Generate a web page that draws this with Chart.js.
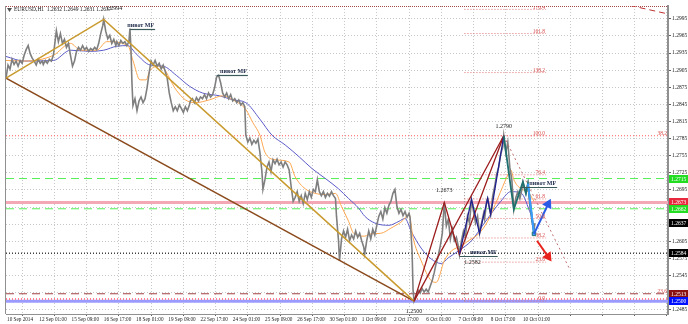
<!DOCTYPE html>
<html>
<head>
<meta charset="utf-8">
<title>EURUSD,H1</title>
<script src="https://cdn.jsdelivr.net/npm/chart.js@4.4.0/dist/chart.umd.min.js"></script>
<style>
html,body{margin:0;padding:0;background:#fff;}
</style>
</head>
<body>
<canvas id="mt4" width="688" height="324"></canvas>
<script>
// ---- data (bar index, price) ----
const timeLabels = ['10 Sep 2014','12 Sep 01:00','15 Sep 09:00','16 Sep 17:00','18 Sep 01:00','19 Sep 09:00',
  '22 Sep 17:00','24 Sep 01:00','25 Sep 09:00','26 Sep 17:00','30 Sep 01:00','1 Oct 09:00','2 Oct 17:00',
  '6 Oct 01:00','7 Oct 09:00','8 Oct 17:00','10 Oct 01:00'];
const timeTickBars = [16,48,80,112,144,176,208,240,272,304,336,368,400,432,464,496,528,560,592,624,656];
const tickPrices = [1.2485,1.2515,1.2545,1.2575,1.2605,1.2635,1.2665,1.2695,1.2725,1.2755,1.2785,1.2815,
  1.2845,1.2875,1.2905,1.2935,1.2965,1.2995];

const closeSeries = [[0,1.2891],[2,1.2914],[4,1.2907],[6,1.2924],[8,1.2915],[10,1.2921],[12,1.2912],[14,1.2922],[16,1.2917],[18,1.2931],[20,1.2941],[22,1.2948],[24,1.2934],[26,1.2926],[28,1.2921],[30,1.2914],[32,1.2924],[34,1.2917],[36,1.2921],[37,1.2915],[39,1.2922],[41,1.2917],[43,1.2924],[45,1.2921],[47,1.2931],[49,1.2960],[50,1.2974],[52,1.2955],[54,1.2969],[56,1.2952],[58,1.2959],[60,1.2945],[62,1.2952],[64,1.2931],[66,1.2912],[68,1.2921],[70,1.2938],[72,1.2945],[74,1.2940],[76,1.2948],[78,1.2941],[80,1.2945],[82,1.2938],[84,1.2943],[86,1.2940],[88,1.2945],[90,1.2941],[92,1.2952],[94,1.2969],[96,1.2983],[97,1.2994],[99,1.2973],[101,1.2960],[103,1.2966],[105,1.2952],[107,1.2959],[109,1.2948],[110,1.2955],[112,1.2948],[114,1.2957],[116,1.2952],[118,1.2955],[120,1.2948],[122,1.2955],[123,1.2978],[124,1.2943],[125,1.2883],[126,1.2843],[128,1.2855],[130,1.2834],[132,1.2851],[134,1.2858],[136,1.2848],[138,1.2855],[140,1.2874],[142,1.2900],[144,1.2921],[146,1.2914],[148,1.2922],[150,1.2912],[152,1.2917],[154,1.2907],[156,1.2914],[158,1.2903],[160,1.2891],[162,1.2865],[164,1.2848],[166,1.2834],[168,1.2841],[170,1.2834],[172,1.2844],[174,1.2838],[176,1.2831],[178,1.2841],[180,1.2834],[182,1.2844],[183,1.2851],[185,1.2855],[187,1.2848],[189,1.2857],[191,1.2851],[193,1.2858],[195,1.2855],[197,1.2862],[199,1.2855],[201,1.2865],[203,1.2858],[205,1.2862],[207,1.2874],[209,1.2893],[211,1.2896],[213,1.2883],[215,1.2865],[217,1.2858],[219,1.2865],[221,1.2855],[223,1.2862],[225,1.2851],[227,1.2855],[229,1.2848],[231,1.2853],[233,1.2844],[235,1.2848],[237,1.2841],[238,1.2791],[240,1.2779],[242,1.2786],[244,1.2775],[246,1.2782],[248,1.2777],[250,1.2784],[252,1.2761],[254,1.2727],[255,1.2696],[257,1.2713],[259,1.2735],[261,1.2744],[263,1.2727],[265,1.2748],[267,1.2741],[269,1.2749],[271,1.2739],[273,1.2744],[275,1.2735],[277,1.2744],[279,1.2739],[281,1.2730],[283,1.2701],[285,1.2675],[287,1.2682],[289,1.2692],[291,1.2675],[293,1.2685],[295,1.2671],[297,1.2689],[299,1.2678],[301,1.2692],[303,1.2682],[305,1.2696],[307,1.2692],[309,1.2713],[311,1.2692],[313,1.2685],[315,1.2692],[317,1.2682],[319,1.2689],[321,1.2684],[323,1.2692],[325,1.2685],[327,1.2680],[328,1.2649],[330,1.2606],[331,1.2571],[333,1.2609],[335,1.2623],[337,1.2612],[339,1.2626],[341,1.2606],[343,1.2616],[345,1.2609],[347,1.2623],[349,1.2612],[351,1.2619],[353,1.2606],[355,1.2595],[356,1.2583],[358,1.2606],[360,1.2623],[362,1.2609],[364,1.2626],[366,1.2616],[368,1.2633],[370,1.2649],[372,1.2657],[374,1.2644],[376,1.2664],[378,1.2654],[380,1.2668],[382,1.2675],[384,1.2689],[386,1.2696],[388,1.2666],[390,1.2654],[392,1.2661],[394,1.2650],[396,1.2657],[398,1.2647],[400,1.2654],[401,1.2647],[403,1.2588],[404,1.2519],[405,1.2500],[407,1.2509],[409,1.2519],[411,1.2514],[413,1.2522],[415,1.2516],[417,1.2521],[419,1.2516],[421,1.2526],[423,1.2536],[425,1.2550],[427,1.2567],[429,1.2580],[431,1.2597],[433,1.2619],[435,1.2673],[437,1.2632],[439,1.2644],[441,1.2609],[443,1.2626],[445,1.2606],[447,1.2612],[449,1.2595],[450,1.2582],[452,1.2606],[454,1.2623],[456,1.2612],[458,1.2649],[460,1.2637],[462,1.2678],[464,1.2657],[466,1.2637],[468,1.2649],[470,1.2619],[472,1.2637],[474,1.2654],[475,1.2644],[477,1.2675],[478,1.2680],[480,1.2661],[481,1.2652],[483,1.2684],[485,1.2701],[487,1.2723],[489,1.2735],[491,1.2758],[493,1.2770],[494,1.2790],[496,1.2761],[498,1.2779],[500,1.2735],[502,1.2713],[504,1.2661],[506,1.2682],[508,1.2692],[510,1.2680],[512,1.2696],[513,1.2709],[515,1.2696],[516,1.2689],[518,1.2706],[520,1.2666],[522,1.2640],[524,1.2626],[525,1.2637]];

const fastMa = [[0,1.2922],[18,1.2921],[47,1.2931],[64,1.2952],[74,1.2940],[90,1.2940],[100,1.2955],[121,1.2948],[126,1.2922],[133,1.2888],[139,1.2888],[143,1.2905],[153,1.2912],[169,1.2870],[178,1.2853],[188,1.2848],[202,1.2853],[215,1.2860],[225,1.2853],[238,1.2836],[245,1.2813],[252,1.2791],[257,1.2761],[267,1.2748],[281,1.2744],[287,1.2718],[297,1.2697],[307,1.2689],[317,1.2687],[327,1.2689],[333,1.2666],[340,1.2640],[345,1.2619],[356,1.2614],[362,1.2618],[372,1.2619],[382,1.2628],[393,1.2640],[400,1.2652],[404,1.2611],[412,1.2571],[422,1.2536],[427,1.2533],[435,1.2571],[442,1.2588],[452,1.2597],[459,1.2606],[469,1.2618],[478,1.2640],[488,1.2680],[498,1.2721],[501,1.2730],[504,1.2713],[511,1.2697],[518,1.2692],[524,1.2675]];

const slowMa = [[0,1.2929],[18,1.2921],[47,1.2922],[64,1.2940],[84,1.2938],[97,1.2940],[110,1.2947],[121,1.2948],[129,1.2934],[143,1.2914],[156,1.2912],[169,1.2896],[182,1.2877],[195,1.2865],[212,1.2860],[225,1.2853],[238,1.2848],[252,1.2819],[264,1.2791],[277,1.2774],[291,1.2753],[304,1.2732],[317,1.2715],[330,1.2697],[340,1.2680],[350,1.2663],[356,1.2649],[366,1.2637],[380,1.2633],[390,1.2640],[396,1.2645],[402,1.2623],[412,1.2593],[422,1.2574],[432,1.2566],[439,1.2576],[449,1.2588],[462,1.2606],[474,1.2635],[491,1.2675],[501,1.2692],[511,1.2690],[521,1.2652]];

// zigzag / trend objects
const zzGold  = [[0,1.2891],[97,1.2994],[405,1.2500]];
const zzBrown = [[0,1.2891],[405,1.2500]];
const zzRed   = [[405,1.2500],[435,1.2673],[450,1.2582],[494,1.2790]];
const zzRed2  = [[405,1.2500],[494,1.2790]];
const zzNavy  = [[450,1.2582],[462,1.2678],[470,1.2619],[478,1.2680],[481,1.2652],[494,1.2790]];
const zzTeal  = [[494,1.2790],[504,1.2661],[513,1.2709],[516,1.2689],[518,1.2706],[524,1.2618]];
const legSky  = [[518,1.2706],[524,1.2618]];
const arrowUp   = [[524,1.2618],[538,1.2670]];
const arrowDown = [[527,1.2606],[538,1.2578]];
const projLine  = [[494,1.2790],[560,1.2554]];
const channelLine = [[590,1.3030],[656,1.3004]];
const fibStem = [[455,1.2500],[455,1.2760]];

// horizontal levels
const levelPrices = [1.3017,1.2790,1.2715,1.2673,1.2662,1.2584,1.2513,1.2504,1.2500];
const fibLow = 1.2500, fibHigh = 1.2790;
const fibLevels = [0,23.6,38.2,50,61.8,76.4,100,138.2,161.8,176.4];
const fibSpan = [455,536];

// price marks on the axis
const axisMarks = [1.2715,1.2673,1.2662,1.2637,1.2584,1.2513,1.2500];

// text notes
const peakNotes = [['1.2994',97,1.2994],['1.2790',494,1.2790],['1.2673',435,1.2673],['1.2582',450,1.2582],['1.2500',405,1.2500]];
const pivotNotes = [[123,148,1.2978],[209,240,1.2896],[511,547,1.2700],[450,488,1.2580]];
const sideNotes = [['38.2',1.2790],['23.6',1.2513]];
const headerText = 'EURUSD,H1  1.2632 1.2649 1.2631 1.2637';

// ---- styles ----
const levelStyle = [
  {c:'#8b1a1a', w:1, d:[1,1]},
  {c:'#ff5a5a', w:1, d:[1,2]},
  {c:'#55ee55', w:1, d:[8,5]},
  {c:'#f4a7b5', w:3, d:[]},
  {c:'#55ee55', w:1, d:[8,5]},
  {c:'#404040', w:1.5, d:[1,2]},
  {c:'#a04040', w:1, d:[8,5]},
  {c:'#ff7f8f', w:2, d:[1,2]},
  {c:'#9a9aff', w:3, d:[]}
];
const axisMarkColors = ['#22dd22','#e8283c','#22dd22','#000000','#000000','#8b1010','#0010ff'];
const peakOffsets = [[2,-11,'left'],[0,-9,'center'],[0,-12,'center'],[13,8,'center'],[0,10,'center']];

const pts = arr => arr.map(p => ({x: p[0], y: p[1]}));
function seg(arr, color, width, dash, order, extra) {
  return Object.assign({
    data: pts(arr), borderColor: color, borderWidth: width, borderDash: dash || [],
    pointRadius: 0, fill: false, tension: 0, order: order
  }, extra || {});
}

const datasets = [];
levelPrices.forEach((p, i) => {
  const s = levelStyle[i];
  datasets.push(seg([[0,p],[657,p]], s.c, s.w, s.d, 40));
});
fibLevels.forEach(l => {
  const p = fibLow + (fibHigh - fibLow) * l / 100;
  datasets.push(seg([[fibSpan[0],p],[fibSpan[1],p]], '#e07070', 1, [1,2], 35));
});
datasets.push(seg(fibStem, '#909090', 1, [1,2], 35));
datasets.push(seg(slowMa, '#5b5bc8', 1, [], 25, {cubicInterpolationMode:'monotone'}));
datasets.push(seg(fastMa, '#ffa64d', 1, [], 24, {cubicInterpolationMode:'monotone'}));
datasets.push(seg(closeSeries, '#7f7f7f', 1.6, [], 20));
datasets.push(seg(zzBrown, '#8b4a1c', 1.5, [], 10));
datasets.push(seg(zzGold, '#c99a2e', 1.5, [], 9));
datasets.push(seg(zzRed2, '#9b1c1c', 1.3, [], 8));
datasets.push(seg(zzRed, '#9b1c1c', 1.3, [], 8));
datasets.push(seg(zzNavy, '#1f1f8f', 1.3, [], 7));
datasets.push(seg(zzTeal, '#1f6f6f', 1.8, [], 6));
datasets.push(seg(legSky, '#3a9cff', 2, [], 5, {pointRadius:[0,2.5], pointStyle:'rect', pointBackgroundColor:'#3a9cff', pointBorderColor:'#1f6f6f', pointBorderWidth:1}));
datasets.push(seg(projLine, '#c07070', 1, [2,3], 12));
datasets.push(seg(channelLine, '#c03030', 1, [6,4], 12));
datasets.push(seg(arrowUp, '#2b5ce6', 2, [], 2, {pointRadius:[0,4], pointStyle:'triangle', pointRotation:[0,27], pointBackgroundColor:'#2b5ce6', pointBorderColor:'#2b5ce6'}));
datasets.push(seg(arrowDown, '#e8231e', 2, [], 2, {pointRadius:[0,4], pointStyle:'triangle', pointRotation:[0,145], pointBackgroundColor:'#e8231e', pointBorderColor:'#e8231e'}));

const SERIF = '"Liberation Serif", "DejaVu Serif", serif';

// texts, notes and axis price marks
const overlay = {
  id: 'overlay',
  afterDatasetsDraw(chart) {
    const {ctx, scales: {x, y}, chartArea: a} = chart;
    ctx.save();
    ctx.beginPath();
    ctx.rect(a.left, a.top, a.right - a.left, a.bottom - a.top);
    ctx.clip();
    // fib labels
    ctx.font = '5.5px ' + SERIF;
    ctx.fillStyle = '#d85050';
    ctx.textAlign = 'right';
    ctx.textBaseline = 'bottom';
    fibLevels.forEach(l => {
      const p = fibLow + (fibHigh - fibLow) * l / 100;
      ctx.fillText(l.toFixed(1), x.getPixelForValue(fibSpan[1]) - 1, y.getPixelForValue(p) + 0.5);
    });
    sideNotes.forEach(n => ctx.fillText(n[0], a.right - 1, y.getPixelForValue(n[1]) + 0.5));
    // peak prices
    ctx.font = '6px ' + SERIF;
    ctx.fillStyle = '#202020';
    ctx.textBaseline = 'middle';
    peakNotes.forEach((n, i) => {
      const o = peakOffsets[i];
      ctx.textAlign = o[2];
      ctx.fillText(n[0], x.getPixelForValue(n[1]) + o[0], y.getPixelForValue(n[2]) + o[1]);
    });
    // pivot notes
    pivotNotes.forEach(n => {
      const x0 = x.getPixelForValue(n[0]), x1 = x.getPixelForValue(n[1]);
      const py = Math.round(y.getPixelForValue(n[2])) + 0.5;
      ctx.strokeStyle = '#3c5a5a';
      ctx.lineWidth = 1.2;
      ctx.setLineDash([]);
      ctx.beginPath();
      ctx.moveTo(x0, py);
      ctx.lineTo(x1, py);
      ctx.stroke();
      ctx.font = 'bold 6px ' + SERIF;
      ctx.fillStyle = '#1c2848';
      ctx.textAlign = 'right';
      ctx.textBaseline = 'bottom';
      ctx.fillText('пивот MF', x1 - 1, py - 1);
    });
    ctx.restore();
  },
  afterDraw(chart) {
    const {ctx, scales: {y}, chartArea: a} = chart;
    ctx.save();
    // left frame
    ctx.strokeStyle = '#909090';
    ctx.lineWidth = 1;
    ctx.beginPath();
    ctx.moveTo(a.left - 0.5, a.top);
    ctx.lineTo(a.left - 0.5, a.bottom);
    ctx.stroke();
    // header
    ctx.fillStyle = '#505050';
    ctx.beginPath();
    ctx.moveTo(a.left + 1, a.top + 2);
    ctx.lineTo(a.left + 6, a.top + 2);
    ctx.lineTo(a.left + 3.5, a.top + 6);
    ctx.closePath();
    ctx.fill();
    ctx.font = '5.5px ' + SERIF;
    ctx.fillStyle = '#202020';
    ctx.textAlign = 'left';
    ctx.textBaseline = 'middle';
    ctx.fillText(headerText, a.left + 8, a.top + 4);
    // axis price marks
    ctx.font = '5.5px ' + SERIF;
    axisMarks.forEach((p, i) => {
      const py = Math.round(y.getPixelForValue(p));
      ctx.fillStyle = axisMarkColors[i];
      ctx.fillRect(a.right + 1, py - 4, 20, 8);
      ctx.fillStyle = '#ffffff';
      ctx.fillText(p.toFixed(4), a.right + 3, py + 0.5);
    });
    ctx.restore();
  }
};

new Chart(document.getElementById('mt4'), {
  type: 'line',
  data: { datasets: datasets },
  options: {
    responsive: false,
    animation: false,
    events: [],
    layout: { padding: { left: 2, top: 2, right: 0, bottom: 0 } },
    plugins: { legend: { display: false }, tooltip: { enabled: false } },
    scales: {
      x: {
        type: 'linear', position: 'bottom', min: 0, max: 657,
        afterBuildTicks: s => { s.ticks = timeTickBars.map(v => ({value: v})); },
        afterFit: s => { s.height = 10; s.paddingLeft = 0; s.paddingRight = 0; },
        ticks: {
          autoSkip: false, maxRotation: 0, align: 'start', labelOffset: -15, padding: 1,
          color: '#1a1a1a', font: { family: SERIF, size: 5.2 },
          callback: (v, i) => timeLabels[i] || ''
        },
        grid: { color: '#c8c8c8', tickLength: 2, tickColor: '#606060', tickBorderDash: [] },
        border: { color: '#909090', width: 1, dash: [1,2] }
      },
      y: {
        type: 'linear', position: 'right', min: 1.24775, max: 1.30175,
        afterBuildTicks: s => { s.ticks = tickPrices.map(v => ({value: v})); },
        afterFit: s => { s.width = 20; s.paddingTop = 0; s.paddingBottom = 0; },
        ticks: {
          autoSkip: false, padding: 1, color: '#1a1a1a', font: { family: SERIF, size: 5.5 },
          callback: v => Number(v).toFixed(4)
        },
        grid: { color: '#c8c8c8', tickLength: 3, tickColor: '#606060', tickBorderDash: [] },
        border: { color: '#909090', width: 2, dash: [1,2] }
      }
    }
  },
  plugins: [overlay]
});
</script>
</body>
</html>
